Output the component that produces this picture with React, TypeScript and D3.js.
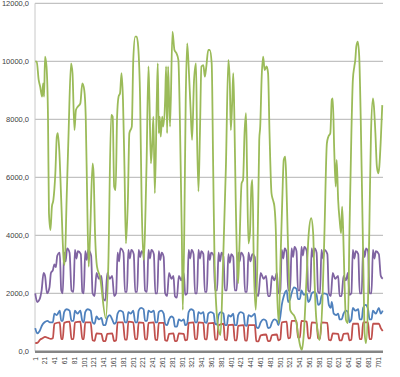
import React from "react";
import * as d3 from "d3";

const N = 710;
const yTicks = [0, 2000, 4000, 6000, 8000, 10000, 12000];
const xTickLabels = ["1","21","41","61","81","101","121","141","161","181","201","221","241","261","281","301","321","341","361","381","401","421","441","461","481","501","521","541","561","581","601","621","641","661","681","701"];

const green: [number, number][] = [[1,10000],[4,9990],[8,9360],[11,9130],[15,8780],[17,9240],[19,8780],[21,10160],[24,9820],[27,8090],[29,4760],[32,4180],[35,4990],[38,5220],[42,6140],[45,7400],[47,7520],[50,6940],[54,5220],[59,3150],[61,2980],[65,5220],[69,7520],[74,9930],[77,9590],[81,7630],[84,8320],[88,8440],[93,8550],[97,9240],[101,9010],[104,8090],[107,5220],[110,2920],[113,4070],[118,6480],[120,6140],[123,4070],[127,2920],[133,2580],[145,1140],[150,2920],[156,8150],[159,8090],[162,5680],[165,5560],[168,8090],[171,8780],[174,8900],[177,9590],[180,8670],[183,6370],[186,3720],[190,5220],[193,7520],[198,7750],[201,10050],[205,10850],[208,10850],[211,10510],[215,8670],[218,5220],[222,3150],[228,6370],[232,9820],[234,8670],[237,6480],[240,7290],[242,8090],[245,5450],[249,8670],[251,9930],[253,7520],[255,8090],[257,7400],[260,8090],[262,7750],[266,8670],[268,9820],[270,7520],[272,9820],[276,7750],[281,11020],[285,10390],[289,10280],[293,10050],[296,8090],[300,4070],[302,1430],[305,4070],[308,8670],[311,10620],[314,9820],[318,8320],[321,7290],[325,9360],[329,9930],[331,7520],[334,5510],[337,7520],[340,9820],[344,9870],[347,9470],[350,9820],[354,10390],[357,10390],[361,9930],[364,6370],[367,2920],[374,850],[379,560],[384,2920],[390,6370],[395,10050],[398,9240],[400,7630],[403,8670],[405,9590],[407,8320],[410,5220],[415,2350],[418,3840],[422,5790],[425,5910],[428,7520],[431,8210],[433,6370],[436,3720],[439,4070],[442,5680],[444,5910],[447,2920],[451,1430],[454,2920],[458,7290],[460,7750],[463,9470],[466,10160],[469,9700],[473,9820],[476,9590],[479,7520],[483,5450],[486,5220],[489,4990],[492,4070],[494,2350],[498,970],[501,2920],[505,5220],[508,6600],[511,6710],[513,6020],[516,4070],[519,2350],[521,1430],[525,1310],[530,1200],[534,970],[537,620],[542,160],[545,50],[549,620],[554,2350],[559,4070],[564,4590],[568,4070],[571,2350],[574,1200],[578,620],[581,390],[587,1770],[591,4070],[596,7170],[599,7400],[603,7520],[606,8670],[608,8720],[611,6940],[614,5680],[616,6600],[619,5220],[622,4530],[625,4070],[627,4990],[629,4300],[632,2350],[635,1080],[639,970],[642,4070],[646,7520],[649,9360],[652,9820],[654,10050],[656,10510],[659,10680],[662,10160],[665,8090],[668,5220],[671,2350],[673,620],[676,280],[680,1770],[683,4640],[686,7520],[690,8720],[692,8440],[695,7520],[698,6370],[701,6140],[703,6370],[706,7290],[709,8490]];

const purple: [number, number][] = [[1,2000],[5,1700],[10,1800],[14,2100],[18,2700],[21,2600],[25,2000],[30,2200],[33,2700],
[37,2800],[40,3000],[43,2900],[46,3300],[51,3400],[54,2100],
[57,2000],[60,3400],[63,3100],[66,3550],[71,3400],[75,2100],
[79,2050],[82,3500],[85,3200],[88,3450],[94,3350],[97,2050],
[100,2000],[103,3450],[106,3150],[109,3500],[115,3300],[118,2000],
[122,1900],[126,2700],[131,2500],[136,2600],[140,1800],
[144,1750],[148,2700],[153,2500],[158,2600],[162,1900],
[166,2000],[169,3400],[172,3100],[175,3550],[181,3400],[184,2050],
[188,2050],[191,3500],[194,3200],[197,3500],[202,3350],[205,2050],
[209,2050],[212,3500],[215,3250],[218,3450],[222,3350],[225,2100],
[229,2050],[232,3500],[235,3200],[238,3500],[243,3350],[246,2000],
[250,2000],[253,3450],[256,3150],[259,3400],[263,3250],[266,2000],
[270,1900],[274,2700],[279,2500],[283,2600],[286,1900],
[290,1850],[294,2600],[299,2450],[304,2700],[307,1950],
[311,2000],[314,3500],[317,3200],[320,3500],[324,3350],[327,2000],
[331,2000],[334,3500],[337,3200],[340,3450],[344,3350],[347,2050],
[351,2050],[354,3450],[357,3150],[360,3400],[365,3300],[368,2100],
[372,2100],[375,3400],[378,3100],[381,3400],[385,3250],[388,2100],
[392,2100],[395,3350],[398,3050],[401,3350],[405,3250],[408,2100],
[412,2100],[415,3400],[418,3100],[421,3400],[426,3250],[429,2050],
[433,2050],[436,3400],[440,3100],[444,3350],[449,3250],[452,2000],
[456,1900],[461,2700],[467,2500],[472,2600],[476,1900],
[480,1900],[484,2600],[489,2450],[494,2700],[497,2000],
[501,2100],[504,3500],[507,3200],[510,3550],[514,3400],[517,2100],
[521,2100],[524,3550],[527,3250],[530,3600],[534,3450],[537,2100],
[541,2100],[544,3600],[547,3300],[550,3600],[555,3450],[558,2100],
[562,2050],[565,3550],[568,3250],[571,3550],[575,3400],[578,2050],
[582,2000],[585,3500],[588,3200],[591,3500],[597,3350],[600,2000],
[604,1900],[608,2700],[613,2500],[619,2600],[622,1900],
[626,1900],[630,2600],[635,2450],[639,2700],[642,1950],
[646,2000],[649,3500],[652,3200],[655,3450],[660,3350],[663,2000],
[667,2000],[670,3550],[673,3250],[676,3550],[680,3450],[683,2000],
[687,2000],[690,3500],[693,3200],[696,3450],[702,3350],[706,2600],[710,2500]];

const blue: [number, number][] = [[1,800],[5,620],[10,700],[15,900],[20,1000],[26,1050],[31,1000],
[37,1000],[40,1300],[45,1250],[51,1400],[54,1050],
[57,1050],[60,1350],[65,1450],[71,1400],[75,1050],
[79,1050],[82,1400],[87,1300],[93,1400],[97,1050],
[100,1000],[103,1350],[108,1450],[114,1400],[118,1000],
[122,950],[126,1200],[131,1100],[136,1150],[140,900],
[144,900],[148,1150],[153,1250],[158,1100],[162,950],
[166,1000],[169,1300],[174,1400],[180,1350],[184,1000],
[188,1000],[191,1350],[196,1300],[201,1400],[205,1000],
[209,1000],[212,1400],[217,1500],[222,1450],[225,1050],
[229,1050],[232,1400],[237,1350],[243,1400],[246,1000],
[250,1000],[253,1350],[258,1400],[263,1300],[266,950],
[270,900],[274,1100],[279,1200],[283,1150],[286,850],
[290,850],[294,1100],[299,1050],[304,1100],[307,900],
[311,950],[314,1350],[319,1450],[324,1400],[327,1000],
[331,1000],[334,1350],[339,1300],[344,1350],[347,1000],
[351,980],[354,1300],[359,1350],[365,1300],[368,950],
[372,920],[375,1250],[380,1350],[385,1300],[388,900],
[392,900],[395,1250],[400,1200],[405,1300],[408,900],
[412,900],[415,1250],[420,1350],[426,1300],[429,900],
[433,880],[436,1250],[442,1200],[449,1300],[452,850],
[456,800],[461,1000],[467,1100],[472,1050],[476,800],
[480,820],[484,1000],[489,1100],[494,1050],[497,900],
[501,1200],[504,1600],[508,1900],[514,2100],[517,1700],
[521,1800],[524,2000],[529,2200],[534,2150],[537,1800],
[541,1800],[544,2100],[549,1950],[555,2000],[558,1700],
[562,1800],[565,2000],[570,2050],[575,1950],[578,1600],
[582,1650],[585,1900],[590,2000],[597,1950],[600,1600],
[604,1500],[606,1700],[610,1300],[615,1250],[619,1300],[622,1100],
[626,1100],[630,1300],[635,1400],[639,1350],[642,1000],
[646,1100],[649,1500],[654,1400],[660,1450],[663,1100],
[667,1100],[670,1500],[675,1600],[680,1450],[683,1100],
[687,1100],[690,1400],[696,1300],[702,1500],[706,1300],[710,1400]];

const red: [number, number][] = [[1,280],[6,300],[11,400],[16,450],[21,500],[27,460],[33,430],
[37,450],[40,950],[51,1000],[54,430],
[57,420],[60,980],[71,1020],[75,420],
[79,430],[82,1000],[93,1020],[97,430],
[100,420],[103,1000],[114,1000],[118,380],
[122,360],[126,620],[136,600],[140,350],
[144,350],[148,600],[158,620],[162,350],
[166,380],[169,1000],[180,1000],[184,400],
[188,400],[191,1020],[201,1000],[205,420],
[209,420],[212,1000],[222,980],[225,420],
[229,410],[232,980],[243,1000],[246,400],
[250,390],[253,980],[263,980],[266,380],
[270,360],[274,600],[283,620],[286,350],
[290,360],[294,620],[304,600],[307,380],
[311,400],[314,980],[324,1000],[327,420],
[331,420],[334,1000],[344,980],[347,420],
[351,410],[354,960],[365,980],[368,400],
[372,400],[375,900],[385,950],[388,400],
[392,390],[395,900],[405,920],[408,380],
[412,380],[415,880],[426,900],[429,380],
[433,370],[436,900],[449,900],[452,350],
[456,340],[461,550],[472,580],[476,350],
[480,360],[484,560],[494,580],[497,380],
[501,420],[504,1000],[514,1020],[517,450],
[521,470],[524,1050],[534,1050],[537,480],
[541,470],[544,1050],[555,1020],[558,450],
[562,450],[565,1000],[575,980],[578,450],
[582,430],[585,1000],[597,980],[600,400],
[604,380],[608,620],[619,600],[622,380],
[626,380],[630,600],[639,620],[642,380],
[646,400],[649,950],[660,950],[663,420],
[667,420],[670,1000],[680,1000],[683,420],
[687,420],[690,950],[702,950],[706,800],[710,700]];

const series = [
  { name: "purple", color: "#8064a2", data: purple },
  { name: "blue", color: "#4f81bd", data: blue },
  { name: "red", color: "#c0504d", data: red },
  { name: "green", color: "#9bbb59", data: green },
];

const W = 400, H = 377;
const left = 35, right = 383, top = 3.3, bottom = 351.3;

export default function App() {
  const x = d3.scaleLinear().domain([0.5, N + 0.5]).range([left, right]);
  const y = d3.scaleLinear().domain([0, 12000]).range([bottom, top]);
  const line = d3.line<[number, number]>()
    .x((d) => x(d[0]))
    .y((d) => y(d[1]))
    .curve(d3.curveMonotoneX);
  const fmt = (v: number) => v.toFixed(1).replace(".", ",");
  return (
    <svg width={W} height={H} style={{ position: "absolute", left: 0, top: 0, background: "#fff" }}
      fontFamily="'Liberation Sans', Arial, sans-serif">
      {yTicks.map((t) => (
        <g key={t}>
          {t > 0 && <line x1={left} x2={right} y1={y(t)} y2={y(t)} stroke="#b3b3b3" strokeWidth={1} />}
          <text x={29} y={y(t)} dy="0.35em" textAnchor="end" fontSize={7.5} fill="#404040">{fmt(t)}</text>
        </g>
      ))}
      <line x1={left} x2={left} y1={top} y2={bottom} stroke="#c8c8c8" strokeWidth={1} />
      {series.map((s) => (
        <path key={s.name} d={line(s.data) || ""} fill="none" stroke={s.color} strokeWidth={1.8} strokeLinejoin="round" />
      ))}
      <line x1={left} x2={right} y1={bottom + 0.5} y2={bottom + 0.5} stroke="#858585" strokeWidth={2.5} />
      {xTickLabels.map((l) => {
        const cx = x(+l);
        return (
          <text key={l} transform={`translate(${cx},357) rotate(-90)`} dy="0.35em" textAnchor="end" fontSize={6.5} fill="#404040">{l}</text>
        );
      })}
    </svg>
  );
}
